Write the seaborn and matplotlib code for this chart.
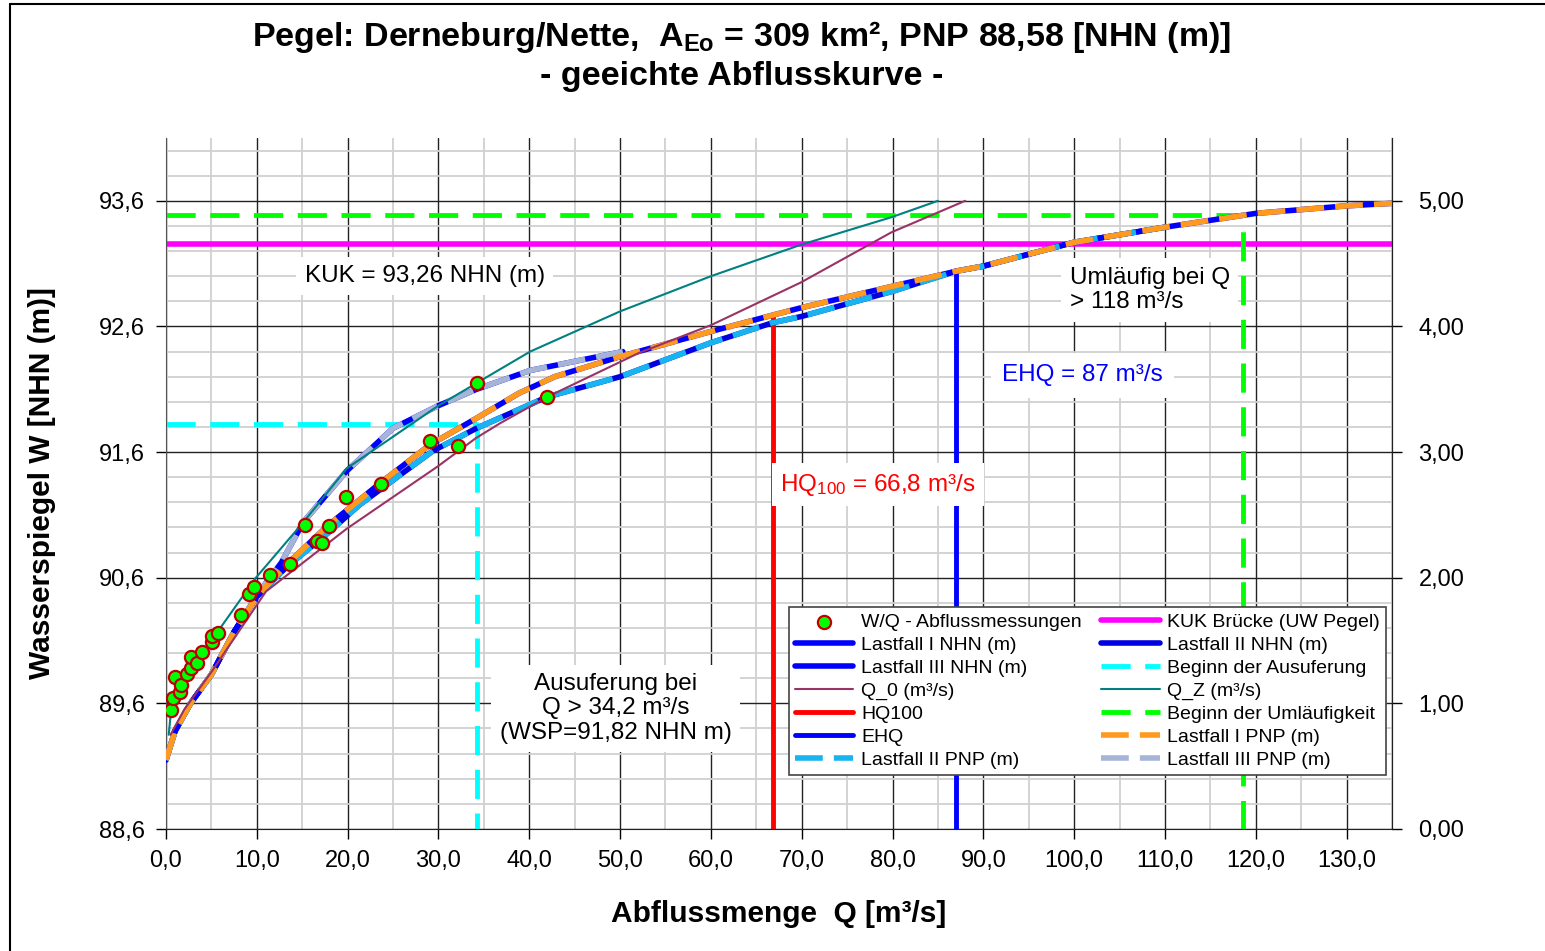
import numpy as np
import pandas as pd
import matplotlib
matplotlib.use("Agg")
import matplotlib.pyplot as plt
from matplotlib.lines import Line2D
from matplotlib.ticker import FuncFormatter
import seaborn as sns

# --- data ---
meas_q = [0.6, 0.8, 1.0, 1.5, 1.7, 2.3, 2.8, 2.8, 3.4, 4.0, 5.1, 5.1, 5.7, 8.3, 9.1, 9.7,
          11.4, 13.7, 15.3, 16.6, 17.2, 17.9, 19.8, 23.7, 29.1, 32.1, 34.2, 42.0]
meas_w = [89.55, 89.64, 89.81, 89.69, 89.75, 89.83, 89.88, 89.97, 89.92, 90.01, 90.09, 90.14, 90.16,
          90.30, 90.47, 90.53, 90.62, 90.71, 91.02, 90.89, 90.88, 91.01, 91.24, 91.35, 91.69, 91.65,
          92.15, 92.04]

lf1_q = [0, 1, 2.7, 5, 7.5, 10, 13.2, 17.9, 23.7, 29.1, 34.2, 38.9, 42.8, 50, 60, 66.8, 70, 80, 87,
         90, 100, 110, 120, 130, 135]
lf1_w = [89.15, 89.38, 89.60, 89.83, 90.17, 90.45, 90.70, 91.02, 91.36, 91.66, 91.87, 92.07, 92.20,
         92.36, 92.56, 92.69, 92.75, 92.92, 93.04, 93.08, 93.27, 93.39, 93.50, 93.56, 93.58]

lf2_q = [0, 1, 2.7, 5, 7.5, 10, 13.2, 17.9, 21.3, 29.4, 34.2, 42, 50, 60, 66.8, 70, 80, 87, 90, 100, 110]
lf2_w = [89.15, 89.38, 89.60, 89.83, 90.17, 90.45, 90.68, 90.96, 91.18, 91.61, 91.79, 92.04, 92.20,
         92.47, 92.63, 92.68, 92.88, 93.04, 93.08, 93.27, 93.39]

lf3_q = [0, 1, 2.7, 5, 7.5, 10.3, 12.7, 15.1, 19.9, 25, 30, 34.2, 40.1, 50.3]
lf3_w = [89.15, 89.38, 89.60, 89.83, 90.17, 90.49, 90.72, 91.04, 91.45, 91.79, 91.97, 92.10, 92.25, 92.40]

q0_q = [0.5, 2, 5, 11, 19.9, 30, 34.1, 36.8, 42, 52.1, 60, 69.9, 79.9, 88]
q0_w = [89.35, 89.55, 89.85, 90.49, 90.99, 91.49, 91.71, 91.83, 92.04, 92.39, 92.61, 92.95, 93.35, 93.60]

qz_q = [0.3, 0.5, 2, 5, 9.9, 15.1, 19.9, 30, 36.8, 40.1, 50, 60, 69.9, 79.9, 85]
qz_w = [89.35, 89.50, 89.78, 90.10, 90.60, 91.04, 91.47, 91.97, 92.26, 92.40, 92.72, 93.00, 93.25, 93.47, 93.60]

kuk_w = 93.26
ausuf_q, ausuf_w = 34.2, 91.82
umlauf_q, umlauf_w = 118.6, 93.49
hq100_q, hq100_w = 66.8, 92.69
ehq_q, ehq_w = 87.0, 93.04
pnp = 88.6

x_ticks = np.arange(0, 131, 10)
y_ticks = np.arange(88.6, 93.61, 1.0)
right_ticks = [0, 1, 2, 3, 4, 5]

sns.set_style("white")
plt.rcParams['font.family'] = ['Liberation Sans', 'DejaVu Sans']
plt.rcParams['text.color'] = 'black'
plt.rcParams['axes.labelcolor'] = 'black'
plt.rcParams['mathtext.fontset'] = 'custom'
plt.rcParams['mathtext.rm'] = 'Liberation Sans'
plt.rcParams['mathtext.bf'] = 'Liberation Sans:bold'
plt.rcParams['mathtext.it'] = 'Liberation Sans:italic'

fig = plt.figure(figsize=(15.45, 9.51), dpi=100)
ax = fig.add_axes([166 / 1545, 1 - 829 / 951, (1392 - 166) / 1545, (829 - 138) / 951])

blue = '#0000FF'
lw_main = 4

# NHN curves (blue, solid) with PNP curves (dashed) on top
sns.lineplot(x=lf3_q, y=lf3_w, ax=ax, color=blue, lw=lw_main, sort=False, estimator=None,
             label='Lastfall III NHN (m)', zorder=3)
sns.lineplot(x=lf3_q, y=lf3_w, ax=ax, color='#A6B4D8', lw=lw_main, sort=False, estimator=None,
             linestyle=(0, (5, 2)), label='Lastfall III PNP (m)', zorder=4)
sns.lineplot(x=lf2_q, y=lf2_w, ax=ax, color='#0000E0', lw=lw_main, sort=False, estimator=None,
             label='Lastfall II NHN (m)', zorder=3)
sns.lineplot(x=lf2_q, y=lf2_w, ax=ax, color='#18B4F0', lw=lw_main, sort=False, estimator=None,
             linestyle=(0, (5, 2)), label='Lastfall II PNP (m)', zorder=4)
sns.lineplot(x=lf1_q, y=lf1_w, ax=ax, color=blue, lw=lw_main, sort=False, estimator=None,
             label='Lastfall I NHN (m)', zorder=3)
sns.lineplot(x=lf1_q, y=lf1_w, ax=ax, color='#FF9A1E', lw=lw_main, sort=False, estimator=None,
             linestyle=(0, (5, 2)), label='Lastfall I PNP (m)', zorder=4)

sns.lineplot(x=q0_q, y=q0_w, ax=ax, color='#993366', lw=1.5, sort=False, estimator=None,
             label='Q_0 (m³/s)', zorder=5)
sns.lineplot(x=qz_q, y=qz_w, ax=ax, color='#008080', lw=1.5, sort=False, estimator=None,
             label='Q_Z (m³/s)', zorder=5)

# reference lines
ax.plot([0, 135], [kuk_w, kuk_w], color='#FF00FF', lw=4, label='KUK Brücke (UW Pegel)', zorder=2)
ax.plot([0, ausuf_q, ausuf_q], [ausuf_w, ausuf_w, pnp], color='#00FFFF', lw=3.5,
        linestyle=(0, (6, 3)), label='Beginn der Ausuferung', zorder=2)
ax.plot([0, umlauf_q, umlauf_q], [umlauf_w, umlauf_w, pnp], color='#00FF00', lw=3.5,
        linestyle=(0, (6, 3)), label='Beginn der Umläufigkeit', zorder=2)
ax.plot([hq100_q, hq100_q], [pnp, hq100_w], color='#FF0000', lw=3.5, label='HQ100', zorder=2)
ax.plot([ehq_q, ehq_q], [pnp, ehq_w], color=blue, lw=3.5, label='EHQ', zorder=2)

sns.scatterplot(x=meas_q, y=meas_w, ax=ax, color='#00FF00', edgecolor='#C00000', linewidth=1.6,
                s=90, label='W/Q - Abflussmessungen', zorder=6)

# axes, ticks, grid
ax.set_xlim(0, 135)
ax.set_ylim(88.6, 94.1)
ax.set_xticks(x_ticks)
ax.set_xticks(np.arange(5, 136, 5), minor=True)
ax.set_yticks(y_ticks)
ax.set_yticks(np.arange(88.8, 94.11, 0.2), minor=True)
ax.xaxis.set_major_formatter(FuncFormatter(lambda v, p: f"{v:.1f}".replace('.', ',')))
ax.yaxis.set_major_formatter(FuncFormatter(lambda v, p: f"{v:.1f}".replace('.', ',')))
ax.grid(which='minor', color='#d0d0d0', lw=1.3)
ax.grid(which='major', color='#222222', lw=1.0)
ax.set_axisbelow(True)
ax.tick_params(which='major', direction='out', length=7, width=1, labelsize=17, pad=8,
               bottom=True, left=True, colors='black')
ax.tick_params(which='minor', length=0)
ax.spines['top'].set_visible(False)
ax.spines['right'].set_color('#222222')
ax.spines['left'].set_color('#555555')
ax.spines['bottom'].set_color('#222222')

ax2 = ax.twinx()
ax2.set_ylim(0, 94.1 - 88.6)
ax2.set_yticks(right_ticks)
ax2.yaxis.set_major_formatter(FuncFormatter(lambda v, p: f"{v:.2f}".replace('.', ',')))
ax2.tick_params(direction='out', length=7, width=1, labelsize=17, pad=12, colors='black')
for side in ['top', 'left', 'bottom']:
    ax2.spines[side].set_visible(False)
ax2.spines['right'].set_color('#222222')

ax.set_xlabel('Abflussmenge  Q [m³/s]', fontsize=21.5, fontweight='bold', labelpad=20)
ax.set_ylabel('Wasserspiegel W [NHN (m)]', fontsize=21.5, fontweight='bold', labelpad=31)

# annotations
fs = 17.5
box = dict(facecolor='white', edgecolor='none', pad=6)
ax.text(28.5, 93.0, 'KUK = 93,26 NHN (m)', fontsize=fs, ha='center', va='center', bbox=box, zorder=7)
ax.text(99.5, 92.89, 'Umläufig bei Q\n> 118 m³/s', fontsize=fs, ha='left', va='center',
        linespacing=1.15, bbox=box, zorder=7)
ax.text(92.1, 92.21, 'EHQ = 87 m³/s', fontsize=fs, color=blue, ha='left', va='center',
        bbox=dict(facecolor='white', edgecolor='none', pad=8), zorder=7)
ax.text(67.6, 91.34, r'HQ$_{100}$ = 66,8 m³/s', fontsize=fs, color='#FF0000', ha='left', va='center',
        bbox=box, zorder=7)
ax.text(49.5, 89.56, 'Ausuferung bei\nQ > 34,2 m³/s\n(WSP=91,82 NHN m)', fontsize=fs, ha='center',
        va='center', linespacing=1.15, bbox=box, zorder=7)

# legend (column-wise order to mimic row order of the reference)
handles, labels = ax.get_legend_handles_labels()
hmap = dict(zip(labels, handles))
order = ['W/Q - Abflussmessungen', 'Lastfall I NHN (m)', 'Lastfall III NHN (m)', 'Q_0 (m³/s)',
         'HQ100', 'EHQ', 'Lastfall II PNP (m)',
         'KUK Brücke (UW Pegel)', 'Lastfall II NHN (m)', 'Beginn der Ausuferung', 'Q_Z (m³/s)',
         'Beginn der Umläufigkeit', 'Lastfall I PNP (m)', 'Lastfall III PNP (m)']
leg = ax.legend([hmap[k] for k in order], order, ncol=2, loc='lower right',
                bbox_to_anchor=(0.995, 0.078), fontsize=14, frameon=True, fancybox=False,
                framealpha=1, edgecolor='#444444', handlelength=3.0, handletextpad=0.4,
                columnspacing=1.0, labelspacing=0.28, borderpad=0.3, borderaxespad=0)
leg.set_zorder(10)
leg.get_frame().set_linewidth(1.2)

# title
fig.text(0.48, 1 - 37 / 951, r'Pegel: Derneburg/Nette,  $\mathbf{A}_{\mathbf{Eo}}$ = 309 km², PNP 88,58 [NHN (m)]',
         fontsize=24.5, fontweight='bold', ha='center', va='center')
fig.text(0.48, 1 - 77 / 951, '- geeichte Abflusskurve -', fontsize=24.5, fontweight='bold',
         ha='center', va='center')

# outer frame of the chart area
fig.add_artist(Line2D([10 / 1545, 10 / 1545], [0, 1 - 4 / 951], transform=fig.transFigure,
                      color='black', lw=1.5))
fig.add_artist(Line2D([10 / 1545, 1], [1 - 4 / 951, 1 - 4 / 951], transform=fig.transFigure,
                      color='black', lw=1.5))

fig.savefig('out.png', dpi=100, facecolor='white')
